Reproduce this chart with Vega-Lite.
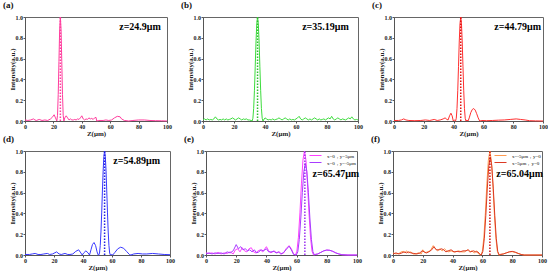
{
"$schema":"https://vega.github.io/schema/vega-lite/v6.json",
"background":"white",
"padding":{"left":2,"top":0,"right":0,"bottom":0},
"datasets":{
"a":[{"z":0,"I":0.01},{"z":2,"I":0.005},{"z":4,"I":0.01},{"z":6,"I":0.02},{"z":7,"I":0.01},{"z":8,"I":0.005},{"z":10,"I":0.015},{"z":12,"I":0.005},{"z":14,"I":0.01},{"z":16,"I":0.005},{"z":18,"I":0.02},{"z":19.5,"I":0.04},{"z":20.5,"I":0.06},{"z":21.5,"I":0.03},{"z":22.4,"I":0},{"z":22.9,"I":0.055},{"z":23.4,"I":0.255},{"z":23.9,"I":0.573},{"z":24.4,"I":0.876},{"z":24.9,"I":1},{"z":25.4,"I":0.876},{"z":25.9,"I":0.573},{"z":26.4,"I":0.255},{"z":26.9,"I":0.055},{"z":27.4,"I":0},{"z":28,"I":0.03},{"z":29,"I":0.05},{"z":30,"I":0.03},{"z":31,"I":0.01},{"z":32,"I":0.02},{"z":33,"I":0.01},{"z":34,"I":0.01},{"z":35,"I":0.015},{"z":36,"I":0.01},{"z":37,"I":0.02},{"z":38,"I":0.015},{"z":39,"I":0.03},{"z":40,"I":0.05},{"z":41,"I":0.02},{"z":42,"I":0.01},{"z":43,"I":0.02},{"z":44,"I":0.015},{"z":45,"I":0.03},{"z":46,"I":0.02},{"z":47,"I":0.025},{"z":48,"I":0.015},{"z":49,"I":0.03},{"z":50,"I":0.035},{"z":50.5,"I":0},{"z":52,"I":0.005},{"z":55,"I":0.005},{"z":57,"I":0.01},{"z":59,"I":0.005},{"z":61,"I":0.01},{"z":63,"I":0.03},{"z":65,"I":0.045},{"z":67,"I":0.04},{"z":68,"I":0.02},{"z":70,"I":0.005},{"z":73,"I":0},{"z":76,"I":0.005},{"z":80,"I":0.01},{"z":84,"I":0.01},{"z":88,"I":0.005},{"z":92,"I":0.003},{"z":96,"I":0.002},{"z":100,"I":0}],
"b":[{"z":0,"I":0.01},{"z":1,"I":0.02},{"z":2,"I":0.01},{"z":3,"I":0.02},{"z":4,"I":0.01},{"z":5,"I":0.015},{"z":6,"I":0.01},{"z":7,"I":0.02},{"z":8,"I":0.04},{"z":9,"I":0.02},{"z":10,"I":0.01},{"z":11,"I":0.015},{"z":12,"I":0.01},{"z":13,"I":0.02},{"z":14,"I":0.01},{"z":15,"I":0.02},{"z":16,"I":0.01},{"z":17,"I":0.015},{"z":18,"I":0.02},{"z":19,"I":0.03},{"z":20,"I":0.02},{"z":21,"I":0.01},{"z":22,"I":0.02},{"z":23,"I":0.03},{"z":24,"I":0.02},{"z":25,"I":0.01},{"z":26,"I":0.02},{"z":27,"I":0.015},{"z":28,"I":0.02},{"z":29,"I":0.01},{"z":30,"I":0.01},{"z":31,"I":0.005},{"z":31.69,"I":0},{"z":32.19,"I":0.026},{"z":32.69,"I":0.121},{"z":33.19,"I":0.295},{"z":33.69,"I":0.525},{"z":34.19,"I":0.759},{"z":34.69,"I":0.935},{"z":35.19,"I":1},{"z":35.69,"I":0.935},{"z":36.19,"I":0.759},{"z":36.69,"I":0.525},{"z":37.19,"I":0.295},{"z":37.69,"I":0.121},{"z":38.19,"I":0.026},{"z":38.69,"I":0},{"z":39.5,"I":0.02},{"z":40,"I":0.03},{"z":41,"I":0.02},{"z":42,"I":0.01},{"z":43,"I":0.015},{"z":44,"I":0.01},{"z":45,"I":0.02},{"z":46,"I":0.01},{"z":47,"I":0.015},{"z":48,"I":0.02},{"z":49,"I":0.03},{"z":50,"I":0.02},{"z":51,"I":0.01},{"z":52,"I":0.02},{"z":53,"I":0.03},{"z":54,"I":0.02},{"z":55,"I":0.01},{"z":56,"I":0.02},{"z":57,"I":0.01},{"z":58,"I":0.015},{"z":59,"I":0.01},{"z":60,"I":0.02},{"z":61,"I":0.03},{"z":62,"I":0.045},{"z":63,"I":0.02},{"z":64,"I":0.01},{"z":65,"I":0.02},{"z":66,"I":0.03},{"z":67,"I":0.02},{"z":68,"I":0.01},{"z":69,"I":0.02},{"z":70,"I":0.01},{"z":71,"I":0.02},{"z":72,"I":0.03},{"z":73,"I":0.02},{"z":74,"I":0.01},{"z":75,"I":0.02},{"z":76,"I":0.01},{"z":77,"I":0.015},{"z":78,"I":0.02},{"z":79,"I":0.01},{"z":80,"I":0.02},{"z":81,"I":0.03},{"z":82,"I":0.02},{"z":83,"I":0.045},{"z":84,"I":0.02},{"z":85,"I":0.01},{"z":86,"I":0.02},{"z":87,"I":0.03},{"z":88,"I":0.02},{"z":89,"I":0.01},{"z":90,"I":0.02},{"z":91,"I":0.015},{"z":92,"I":0.01},{"z":93,"I":0.02},{"z":94,"I":0.03},{"z":95,"I":0.02},{"z":96,"I":0.04},{"z":97,"I":0.02},{"z":98,"I":0.01},{"z":99,"I":0.015},{"z":100,"I":0.01}],
"c":[{"z":0,"I":0.005},{"z":3,"I":0.005},{"z":5,"I":0.01},{"z":6.5,"I":0.02},{"z":8,"I":0.01},{"z":10,"I":0.005},{"z":14,"I":0.003},{"z":18,"I":0.005},{"z":21,"I":0.01},{"z":24,"I":0.005},{"z":27,"I":0.015},{"z":29,"I":0.005},{"z":31,"I":0.01},{"z":33,"I":0.02},{"z":34.3,"I":0.03},{"z":35.5,"I":0.015},{"z":36.3,"I":0.01},{"z":37.3,"I":0.05},{"z":38.2,"I":0.075},{"z":39,"I":0.05},{"z":39.8,"I":0},{"z":40.5,"I":0.01},{"z":41.29,"I":0},{"z":41.79,"I":0.026},{"z":42.29,"I":0.121},{"z":42.79,"I":0.295},{"z":43.29,"I":0.525},{"z":43.79,"I":0.759},{"z":44.29,"I":0.935},{"z":44.79,"I":1},{"z":45.29,"I":0.935},{"z":45.79,"I":0.759},{"z":46.29,"I":0.525},{"z":46.79,"I":0.295},{"z":47.29,"I":0.121},{"z":47.79,"I":0.026},{"z":48.29,"I":0},{"z":49,"I":0.01},{"z":49.7,"I":0},{"z":50.5,"I":0.03},{"z":51.5,"I":0.08},{"z":52.5,"I":0.11},{"z":53.5,"I":0.12},{"z":54.5,"I":0.105},{"z":55.5,"I":0.07},{"z":56.5,"I":0.03},{"z":57.5,"I":0},{"z":59,"I":0.005},{"z":62,"I":0.003},{"z":66,"I":0.005},{"z":70,"I":0.008},{"z":74,"I":0.01},{"z":78,"I":0.015},{"z":82,"I":0.02},{"z":85,"I":0.015},{"z":88,"I":0.01},{"z":91,"I":0.003},{"z":95,"I":0.001},{"z":100,"I":0}],
"d":[{"z":0,"I":0.005},{"z":3,"I":0.005},{"z":5,"I":0.01},{"z":7,"I":0.015},{"z":9,"I":0.005},{"z":11,"I":0.005},{"z":13,"I":0.01},{"z":15.4,"I":0.015},{"z":17,"I":0.005},{"z":19,"I":0.01},{"z":21.8,"I":0.03},{"z":23.5,"I":0.01},{"z":25,"I":0.005},{"z":27.6,"I":0.015},{"z":29.5,"I":0.005},{"z":31,"I":0.005},{"z":33,"I":0.01},{"z":35,"I":0.035},{"z":37,"I":0.05},{"z":38.5,"I":0.02},{"z":39.5,"I":0},{"z":40.5,"I":0.02},{"z":42,"I":0.04},{"z":43.5,"I":0.02},{"z":44.5,"I":0},{"z":45.5,"I":0.05},{"z":46.5,"I":0.1},{"z":47.6,"I":0.12},{"z":48.7,"I":0.09},{"z":49.7,"I":0.03},{"z":50.5,"I":0},{"z":50.89,"I":0},{"z":51.39,"I":0.019},{"z":51.89,"I":0.09},{"z":52.39,"I":0.221},{"z":52.89,"I":0.405},{"z":53.39,"I":0.615},{"z":53.89,"I":0.81},{"z":54.39,"I":0.949},{"z":54.89,"I":1},{"z":55.39,"I":0.949},{"z":55.89,"I":0.81},{"z":56.39,"I":0.615},{"z":56.89,"I":0.405},{"z":57.39,"I":0.221},{"z":57.89,"I":0.09},{"z":58.39,"I":0.019},{"z":58.89,"I":0},{"z":59.7,"I":0.005},{"z":60.5,"I":0},{"z":62,"I":0.025},{"z":64,"I":0.06},{"z":66,"I":0.075},{"z":68,"I":0.065},{"z":70,"I":0.035},{"z":72,"I":0.005},{"z":73,"I":0},{"z":75,"I":0.01},{"z":78,"I":0.015},{"z":81,"I":0.01},{"z":84,"I":0.01},{"z":88,"I":0.015},{"z":92,"I":0.01},{"z":96,"I":0.005},{"z":100,"I":0.003}],
"e":[
{"s":"x=0，y=5μm","z":0,"I":0.02},{"s":"x=0，y=5μm","z":2,"I":0.015},{"s":"x=0，y=5μm","z":4,"I":0.02},{"s":"x=0，y=5μm","z":6,"I":0.01},{"s":"x=0，y=5μm","z":8,"I":0.025},{"s":"x=0，y=5μm","z":10,"I":0.01},{"s":"x=0，y=5μm","z":12,"I":0.02},{"s":"x=0，y=5μm","z":14,"I":0.015},{"s":"x=0，y=5μm","z":16,"I":0.03},{"s":"x=0，y=5μm","z":18,"I":0.01},{"s":"x=0，y=5μm","z":19.5,"I":0.05},{"s":"x=0，y=5μm","z":21,"I":0.06},{"s":"x=0，y=5μm","z":22.5,"I":0.03},{"s":"x=0，y=5μm","z":24,"I":0.07},{"s":"x=0，y=5μm","z":25.5,"I":0.04},{"s":"x=0，y=5μm","z":27,"I":0.03},{"s":"x=0，y=5μm","z":28.5,"I":0.06},{"s":"x=0，y=5μm","z":30,"I":0.07},{"s":"x=0，y=5μm","z":31.5,"I":0.03},{"s":"x=0，y=5μm","z":33,"I":0.02},{"s":"x=0，y=5μm","z":34.5,"I":0.04},{"s":"x=0，y=5μm","z":36,"I":0.05},{"s":"x=0，y=5μm","z":37.5,"I":0.03},{"s":"x=0，y=5μm","z":39,"I":0.06},{"s":"x=0，y=5μm","z":40,"I":0.08},{"s":"x=0，y=5μm","z":41.5,"I":0.04},{"s":"x=0，y=5μm","z":43,"I":0.02},{"s":"x=0，y=5μm","z":45,"I":0.04},{"s":"x=0，y=5μm","z":47,"I":0.02},{"s":"x=0，y=5μm","z":48.5,"I":0.03},{"s":"x=0，y=5μm","z":50,"I":0.01},{"s":"x=0，y=5μm","z":51.5,"I":0.02},{"s":"x=0，y=5μm","z":53,"I":0.06},{"s":"x=0，y=5μm","z":55,"I":0.09},{"s":"x=0，y=5μm","z":56.5,"I":0.06},{"s":"x=0，y=5μm","z":58,"I":0.01},{"s":"x=0，y=5μm","z":59.2,"I":0},{"s":"x=0，y=5μm","z":60.2,"I":0.037},{"s":"x=0，y=5μm","z":61.2,"I":0.171},{"s":"x=0，y=5μm","z":62.2,"I":0.405},{"s":"x=0，y=5μm","z":63.2,"I":0.684},{"s":"x=0，y=5μm","z":64.2,"I":0.912},{"s":"x=0，y=5μm","z":65.2,"I":1},{"s":"x=0，y=5μm","z":66.2,"I":0.912},{"s":"x=0，y=5μm","z":67.2,"I":0.684},{"s":"x=0，y=5μm","z":68.2,"I":0.405},{"s":"x=0，y=5μm","z":69.2,"I":0.171},{"s":"x=0，y=5μm","z":70.2,"I":0.037},{"s":"x=0，y=5μm","z":71.2,"I":0},{"s":"x=0，y=5μm","z":72,"I":0.005},{"s":"x=0，y=5μm","z":74,"I":0.01},{"s":"x=0，y=5μm","z":76,"I":0.025},{"s":"x=0，y=5μm","z":78,"I":0.04},{"s":"x=0，y=5μm","z":80,"I":0.047},{"s":"x=0，y=5μm","z":82,"I":0.045},{"s":"x=0，y=5μm","z":84,"I":0.035},{"s":"x=0，y=5μm","z":86,"I":0.02},{"s":"x=0，y=5μm","z":88,"I":0.01},{"s":"x=0，y=5μm","z":90,"I":0.003},{"s":"x=0，y=5μm","z":94,"I":0},{"s":"x=0，y=5μm","z":100,"I":0},
{"s":"x=0，y=-5μm","z":0,"I":0.01},{"s":"x=0，y=-5μm","z":2,"I":0.02},{"s":"x=0，y=-5μm","z":4,"I":0.01},{"s":"x=0，y=-5μm","z":6,"I":0.02},{"s":"x=0，y=-5μm","z":8,"I":0.015},{"s":"x=0，y=-5μm","z":10,"I":0.02},{"s":"x=0，y=-5μm","z":12,"I":0.01},{"s":"x=0，y=-5μm","z":14,"I":0.03},{"s":"x=0，y=-5μm","z":16,"I":0.02},{"s":"x=0，y=-5μm","z":18,"I":0.04},{"s":"x=0，y=-5μm","z":20,"I":0.1},{"s":"x=0，y=-5μm","z":21.5,"I":0.06},{"s":"x=0，y=-5μm","z":23,"I":0.08},{"s":"x=0，y=-5μm","z":24.5,"I":0.05},{"s":"x=0，y=-5μm","z":26,"I":0.06},{"s":"x=0，y=-5μm","z":27.5,"I":0.04},{"s":"x=0，y=-5μm","z":29,"I":0.05},{"s":"x=0，y=-5μm","z":30.5,"I":0.03},{"s":"x=0，y=-5μm","z":32,"I":0.05},{"s":"x=0，y=-5μm","z":33.5,"I":0.02},{"s":"x=0，y=-5μm","z":35,"I":0.03},{"s":"x=0，y=-5μm","z":36.5,"I":0.05},{"s":"x=0，y=-5μm","z":38,"I":0.04},{"s":"x=0，y=-5μm","z":40,"I":0.06},{"s":"x=0，y=-5μm","z":41.5,"I":0.03},{"s":"x=0，y=-5μm","z":43,"I":0.03},{"s":"x=0，y=-5μm","z":45,"I":0.035},{"s":"x=0，y=-5μm","z":46.5,"I":0.02},{"s":"x=0，y=-5μm","z":48,"I":0.03},{"s":"x=0，y=-5μm","z":49.5,"I":0.01},{"s":"x=0，y=-5μm","z":51,"I":0.02},{"s":"x=0，y=-5μm","z":53,"I":0.05},{"s":"x=0，y=-5μm","z":55,"I":0.085},{"s":"x=0，y=-5μm","z":56.5,"I":0.05},{"s":"x=0，y=-5μm","z":58,"I":0.005},{"s":"x=0，y=-5μm","z":59.8,"I":0},{"s":"x=0，y=-5μm","z":60.8,"I":0.032},{"s":"x=0，y=-5μm","z":61.8,"I":0.15},{"s":"x=0，y=-5μm","z":62.8,"I":0.356},{"s":"x=0，y=-5μm","z":63.8,"I":0.602},{"s":"x=0，y=-5μm","z":64.8,"I":0.803},{"s":"x=0，y=-5μm","z":65.8,"I":0.88},{"s":"x=0，y=-5μm","z":66.8,"I":0.803},{"s":"x=0，y=-5μm","z":67.8,"I":0.602},{"s":"x=0，y=-5μm","z":68.8,"I":0.356},{"s":"x=0，y=-5μm","z":69.8,"I":0.15},{"s":"x=0，y=-5μm","z":70.8,"I":0.032},{"s":"x=0，y=-5μm","z":71.8,"I":0},{"s":"x=0，y=-5μm","z":72.5,"I":0.005},{"s":"x=0，y=-5μm","z":74,"I":0.01},{"s":"x=0，y=-5μm","z":76,"I":0.025},{"s":"x=0，y=-5μm","z":78,"I":0.04},{"s":"x=0，y=-5μm","z":80,"I":0.048},{"s":"x=0，y=-5μm","z":82,"I":0.045},{"s":"x=0，y=-5μm","z":84,"I":0.035},{"s":"x=0，y=-5μm","z":86,"I":0.02},{"s":"x=0，y=-5μm","z":88,"I":0.01},{"s":"x=0，y=-5μm","z":90,"I":0.003},{"s":"x=0，y=-5μm","z":94,"I":0},{"s":"x=0，y=-5μm","z":100,"I":0}],
"f":[
{"s":"x=-5μm，y=0","z":0,"I":0.02},{"s":"x=-5μm，y=0","z":2,"I":0.01},{"s":"x=-5μm，y=0","z":4,"I":0.015},{"s":"x=-5μm，y=0","z":5.5,"I":0.03},{"s":"x=-5μm，y=0","z":7,"I":0.035},{"s":"x=-5μm，y=0","z":8,"I":0.02},{"s":"x=-5μm，y=0","z":9,"I":0.04},{"s":"x=-5μm，y=0","z":10.5,"I":0.02},{"s":"x=-5μm，y=0","z":12,"I":0.03},{"s":"x=-5μm，y=0","z":13.5,"I":0.01},{"s":"x=-5μm，y=0","z":15,"I":0.01},{"s":"x=-5μm，y=0","z":17,"I":0.02},{"s":"x=-5μm，y=0","z":19,"I":0.01},{"s":"x=-5μm，y=0","z":20,"I":0.05},{"s":"x=-5μm，y=0","z":21.5,"I":0.02},{"s":"x=-5μm，y=0","z":23,"I":0.03},{"s":"x=-5μm，y=0","z":25,"I":0.04},{"s":"x=-5μm，y=0","z":27,"I":0.09},{"s":"x=-5μm，y=0","z":28.5,"I":0.06},{"s":"x=-5μm，y=0","z":30,"I":0.04},{"s":"x=-5μm，y=0","z":31.5,"I":0.06},{"s":"x=-5μm，y=0","z":33,"I":0.04},{"s":"x=-5μm，y=0","z":34.5,"I":0.06},{"s":"x=-5μm，y=0","z":36,"I":0.04},{"s":"x=-5μm，y=0","z":37.5,"I":0.03},{"s":"x=-5μm，y=0","z":39,"I":0.04},{"s":"x=-5μm，y=0","z":40.5,"I":0.03},{"s":"x=-5μm，y=0","z":42,"I":0.03},{"s":"x=-5μm，y=0","z":44,"I":0.04},{"s":"x=-5μm，y=0","z":46,"I":0.03},{"s":"x=-5μm，y=0","z":48,"I":0.03},{"s":"x=-5μm，y=0","z":50,"I":0.05},{"s":"x=-5μm，y=0","z":51.5,"I":0.03},{"s":"x=-5μm，y=0","z":53,"I":0.04},{"s":"x=-5μm，y=0","z":54.5,"I":0.02},{"s":"x=-5μm，y=0","z":56,"I":0.04},{"s":"x=-5μm，y=0","z":57.5,"I":0.01},{"s":"x=-5μm，y=0","z":59,"I":0},{"s":"x=-5μm，y=0","z":60,"I":0.037},{"s":"x=-5μm，y=0","z":61,"I":0.171},{"s":"x=-5μm，y=0","z":62,"I":0.405},{"s":"x=-5μm，y=0","z":63,"I":0.684},{"s":"x=-5μm，y=0","z":64,"I":0.912},{"s":"x=-5μm，y=0","z":65,"I":1},{"s":"x=-5μm，y=0","z":66,"I":0.912},{"s":"x=-5μm，y=0","z":67,"I":0.684},{"s":"x=-5μm，y=0","z":68,"I":0.405},{"s":"x=-5μm，y=0","z":69,"I":0.171},{"s":"x=-5μm，y=0","z":70,"I":0.037},{"s":"x=-5μm，y=0","z":71,"I":0},{"s":"x=-5μm，y=0","z":72,"I":0.005},{"s":"x=-5μm，y=0","z":74,"I":0.01},{"s":"x=-5μm，y=0","z":76,"I":0.02},{"s":"x=-5μm，y=0","z":78,"I":0.03},{"s":"x=-5μm，y=0","z":80,"I":0.032},{"s":"x=-5μm，y=0","z":82,"I":0.025},{"s":"x=-5μm，y=0","z":84,"I":0.015},{"s":"x=-5μm，y=0","z":86,"I":0.005},{"s":"x=-5μm，y=0","z":88,"I":0},{"s":"x=-5μm，y=0","z":100,"I":0},
{"s":"x=5μm，y=0","z":0,"I":0.01},{"s":"x=5μm，y=0","z":2,"I":0.02},{"s":"x=5μm，y=0","z":4,"I":0.01},{"s":"x=5μm，y=0","z":6,"I":0.02},{"s":"x=5μm，y=0","z":7.5,"I":0.03},{"s":"x=5μm，y=0","z":9,"I":0.02},{"s":"x=5μm，y=0","z":10.5,"I":0.03},{"s":"x=5μm，y=0","z":12,"I":0.02},{"s":"x=5μm，y=0","z":14,"I":0.015},{"s":"x=5μm，y=0","z":16,"I":0.01},{"s":"x=5μm，y=0","z":18,"I":0.02},{"s":"x=5μm，y=0","z":19.5,"I":0.04},{"s":"x=5μm，y=0","z":21,"I":0.03},{"s":"x=5μm，y=0","z":22.5,"I":0.02},{"s":"x=5μm，y=0","z":24,"I":0.03},{"s":"x=5μm，y=0","z":26,"I":0.05},{"s":"x=5μm，y=0","z":27.5,"I":0.08},{"s":"x=5μm，y=0","z":29,"I":0.05},{"s":"x=5μm，y=0","z":31,"I":0.05},{"s":"x=5μm，y=0","z":32.5,"I":0.06},{"s":"x=5μm，y=0","z":34,"I":0.05},{"s":"x=5μm，y=0","z":35.5,"I":0.03},{"s":"x=5μm，y=0","z":37,"I":0.04},{"s":"x=5μm，y=0","z":39,"I":0.05},{"s":"x=5μm，y=0","z":41,"I":0.03},{"s":"x=5μm，y=0","z":43,"I":0.035},{"s":"x=5μm，y=0","z":45,"I":0.03},{"s":"x=5μm，y=0","z":47,"I":0.04},{"s":"x=5μm，y=0","z":49,"I":0.04},{"s":"x=5μm，y=0","z":50.5,"I":0.05},{"s":"x=5μm，y=0","z":52,"I":0.03},{"s":"x=5μm，y=0","z":54,"I":0.04},{"s":"x=5μm，y=0","z":55.5,"I":0.03},{"s":"x=5μm，y=0","z":57,"I":0.03},{"s":"x=5μm，y=0","z":58.5,"I":0.005},{"s":"x=5μm，y=0","z":59.3,"I":0},{"s":"x=5μm，y=0","z":60.3,"I":0.034},{"s":"x=5μm，y=0","z":61.3,"I":0.161},{"s":"x=5μm，y=0","z":62.3,"I":0.381},{"s":"x=5μm，y=0","z":63.3,"I":0.643},{"s":"x=5μm，y=0","z":64.3,"I":0.857},{"s":"x=5μm，y=0","z":65.3,"I":0.94},{"s":"x=5μm，y=0","z":66.3,"I":0.857},{"s":"x=5μm，y=0","z":67.3,"I":0.643},{"s":"x=5μm，y=0","z":68.3,"I":0.381},{"s":"x=5μm，y=0","z":69.3,"I":0.161},{"s":"x=5μm，y=0","z":70.3,"I":0.034},{"s":"x=5μm，y=0","z":71.3,"I":0},{"s":"x=5μm，y=0","z":72,"I":0.005},{"s":"x=5μm，y=0","z":74,"I":0.01},{"s":"x=5μm，y=0","z":76,"I":0.02},{"s":"x=5μm，y=0","z":78,"I":0.03},{"s":"x=5μm，y=0","z":80,"I":0.035},{"s":"x=5μm，y=0","z":82,"I":0.028},{"s":"x=5μm，y=0","z":84,"I":0.015},{"s":"x=5μm，y=0","z":86,"I":0.005},{"s":"x=5μm，y=0","z":88,"I":0},{"s":"x=5μm，y=0","z":100,"I":0}],
"peaks":[{"p":"a","z":24.9,"label":"z=24.9μm"},{"p":"b","z":35.19,"label":"z=35.19μm"},{"p":"c","z":44.79,"label":"z=44.79μm"},{"p":"d","z":54.89,"label":"z=54.89μm"},{"p":"e","z":65.47,"label":"z=65.47μm"},{"p":"f","z":65.04,"label":"z=65.04μm"}]
},
"vconcat":[
{"hconcat":[
{"width":142,"height":104,"title":"(a)","layer":[
{"data":{"name":"a"},"mark":{"type":"line","color":"#ff3d9e","strokeWidth":1},"encoding":{"x":{"field":"z","type":"quantitative","scale":{"domain":[0,100]},"title":"Z(μm)","axis":{"tickCount":5}},"y":{"field":"I","type":"quantitative","scale":{"domain":[0,1]},"title":"Intensity(a.u.)","axis":{"tickCount":5,"format":".1f"}}}},
{"data":{"name":"peaks"},"transform":[{"filter":"datum.p==='a'"}],"mark":{"type":"rule","color":"#ff3d9e","strokeDash":[1.5,1.5],"strokeWidth":1.5},"encoding":{"x":{"field":"z","type":"quantitative"},"y":{"datum":0},"y2":{"datum":1}}},
{"data":{"name":"peaks"},"transform":[{"filter":"datum.p==='a'"}],"mark":{"type":"text","font":"Liberation Serif","fontWeight":"bold","fontSize":10,"color":"black"},"encoding":{"x":{"datum":81},"y":{"datum":0.9},"text":{"field":"label"}}}
]},
{"width":155,"height":104,"title":"(b)","layer":[
{"data":{"name":"b"},"mark":{"type":"line","color":"#3ddc3d","strokeWidth":1},"encoding":{"x":{"field":"z","type":"quantitative","scale":{"domain":[0,100]},"title":"Z(μm)","axis":{"tickCount":5}},"y":{"field":"I","type":"quantitative","scale":{"domain":[0,1]},"title":"Intensity(a.u.)","axis":{"tickCount":5,"format":".1f"}}}},
{"data":{"name":"peaks"},"transform":[{"filter":"datum.p==='b'"}],"mark":{"type":"rule","color":"#2fbf2f","strokeDash":[1.5,1.5],"strokeWidth":1.5},"encoding":{"x":{"field":"z","type":"quantitative"},"y":{"datum":0},"y2":{"datum":1}}},
{"data":{"name":"peaks"},"transform":[{"filter":"datum.p==='b'"}],"mark":{"type":"text","font":"Liberation Serif","fontWeight":"bold","fontSize":10,"color":"black"},"encoding":{"x":{"datum":79},"y":{"datum":0.9},"text":{"field":"label"}}}
]},
{"width":149,"height":104,"title":"(c)","layer":[
{"data":{"name":"c"},"mark":{"type":"line","color":"#ff3030","strokeWidth":1},"encoding":{"x":{"field":"z","type":"quantitative","scale":{"domain":[0,100]},"title":"Z(μm)","axis":{"tickCount":5}},"y":{"field":"I","type":"quantitative","scale":{"domain":[0,1]},"title":"Intensity(a.u.)","axis":{"tickCount":5,"format":".1f"}}}},
{"data":{"name":"peaks"},"transform":[{"filter":"datum.p==='c'"}],"mark":{"type":"rule","color":"#e01010","strokeDash":[1.5,1.5],"strokeWidth":1.5},"encoding":{"x":{"field":"z","type":"quantitative"},"y":{"datum":0},"y2":{"datum":1}}},
{"data":{"name":"peaks"},"transform":[{"filter":"datum.p==='c'"}],"mark":{"type":"text","font":"Liberation Serif","fontWeight":"bold","fontSize":10,"color":"black"},"encoding":{"x":{"datum":83},"y":{"datum":0.9},"text":{"field":"label"}}}
]}
],"spacing":8},
{"hconcat":[
{"width":145,"height":104,"title":"(d)","layer":[
{"data":{"name":"d"},"mark":{"type":"line","color":"#3838ff","strokeWidth":1},"encoding":{"x":{"field":"z","type":"quantitative","scale":{"domain":[0,100]},"title":"Z(μm)","axis":{"tickCount":5}},"y":{"field":"I","type":"quantitative","scale":{"domain":[0,1]},"title":"Intensity(a.u.)","axis":{"tickCount":5,"format":".1f"}}}},
{"data":{"name":"peaks"},"transform":[{"filter":"datum.p==='d'"}],"mark":{"type":"rule","color":"#2020e0","strokeDash":[1.5,1.5],"strokeWidth":1.5},"encoding":{"x":{"field":"z","type":"quantitative"},"y":{"datum":0},"y2":{"datum":1}}},
{"data":{"name":"peaks"},"transform":[{"filter":"datum.p==='d'"}],"mark":{"type":"text","font":"Liberation Serif","fontWeight":"bold","fontSize":10,"color":"black"},"encoding":{"x":{"datum":77},"y":{"datum":0.9},"text":{"field":"label"}}}
]},
{"width":151,"height":104,"title":"(e)","layer":[
{"data":{"name":"e"},"mark":{"type":"line","strokeWidth":1},"encoding":{"x":{"field":"z","type":"quantitative","scale":{"domain":[0,100]},"title":"Z(μm)","axis":{"tickCount":5}},"y":{"field":"I","type":"quantitative","scale":{"domain":[0,1]},"title":"Intensity(a.u.)","axis":{"tickCount":5,"format":".1f"}},"color":{"field":"s","type":"nominal","scale":{"domain":["x=0，y=5μm","x=0，y=-5μm"],"range":["#ff40ff","#a83cff"]},"legend":{"orient":"top-right","title":null,"symbolType":"M-2,0H2","symbolSize":36,"symbolStrokeWidth":1,"labelFontSize":5,"labelFont":"Liberation Serif","rowPadding":0,"padding":0,"offset":1,"labelOffset":8}}}},
{"data":{"name":"peaks"},"transform":[{"filter":"datum.p==='e'"}],"mark":{"type":"rule","color":"#9a30f0","strokeDash":[1.5,1.5],"strokeWidth":1.5},"encoding":{"x":{"field":"z","type":"quantitative"},"y":{"datum":0},"y2":{"datum":1}}},
{"data":{"name":"peaks"},"transform":[{"filter":"datum.p==='e'"}],"mark":{"type":"text","font":"Liberation Serif","fontWeight":"bold","fontSize":10,"color":"black"},"encoding":{"x":{"datum":86},"y":{"datum":0.78},"text":{"field":"label"}}}
]},
{"width":149,"height":104,"title":"(f)","layer":[
{"data":{"name":"f"},"mark":{"type":"line","strokeWidth":1},"encoding":{"x":{"field":"z","type":"quantitative","scale":{"domain":[0,100]},"title":"Z(μm)","axis":{"tickCount":5}},"y":{"field":"I","type":"quantitative","scale":{"domain":[0,1]},"title":"Intensity(a.u.)","axis":{"tickCount":5,"format":".1f"}},"color":{"field":"s","type":"nominal","scale":{"domain":["x=-5μm，y=0","x=5μm，y=0"],"range":["#ff9a50","#dc3a24"]},"legend":{"orient":"top-right","title":null,"symbolType":"M-2,0H2","symbolSize":36,"symbolStrokeWidth":1,"labelFontSize":5,"labelFont":"Liberation Serif","rowPadding":0,"padding":0,"offset":1,"labelOffset":8}}}},
{"data":{"name":"peaks"},"transform":[{"filter":"datum.p==='f'"}],"mark":{"type":"rule","color":"#d01010","strokeDash":[1.5,1.5],"strokeWidth":1.5},"encoding":{"x":{"field":"z","type":"quantitative"},"y":{"datum":0},"y2":{"datum":1}}},
{"data":{"name":"peaks"},"transform":[{"filter":"datum.p==='f'"}],"mark":{"type":"text","font":"Liberation Serif","fontWeight":"bold","fontSize":10,"color":"black"},"encoding":{"x":{"datum":85},"y":{"datum":0.78},"text":{"field":"label"}}}
]}
],"spacing":8,"resolve":{"scale":{"color":"independent"},"legend":{"color":"independent"}}}
],
"spacing":-3,
"config":{
"font":"Liberation Serif",
"view":{"stroke":"#666","strokeWidth":1},
"axis":{"labelFont":"Liberation Serif","labelFontSize":6,"labelFontWeight":"bold","titleFont":"Liberation Serif","titleFontSize":7,"titleFontWeight":"bold","tickSize":2,"domainColor":"#555","tickColor":"#555","labelColor":"#222","titleColor":"#222","labelPadding":0.5,"titlePadding":0,"grid":false,"labelOverlap":false,"labelBound":false,"labelFlush":false},
"title":{"font":"Liberation Serif","fontSize":9,"fontWeight":"bold","anchor":"start","frame":"group","dx":-22,"offset":0,"color":"#111"}
}
}
